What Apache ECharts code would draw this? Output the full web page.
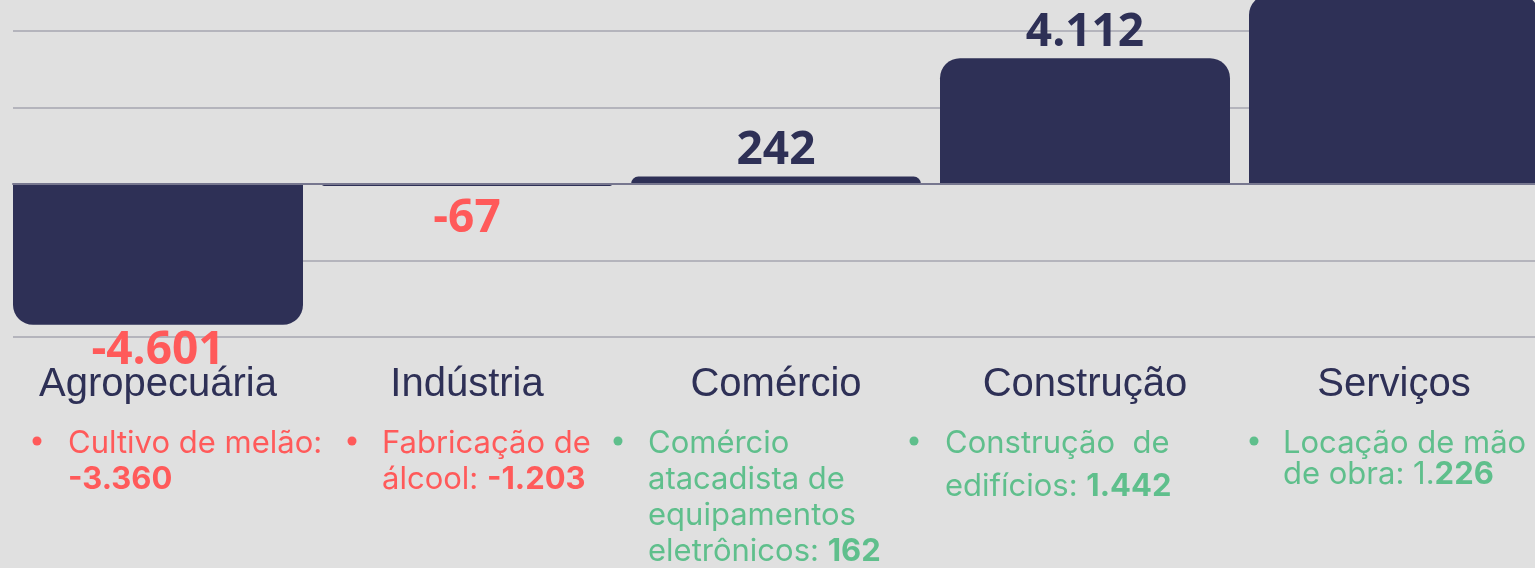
<!DOCTYPE html>
<html>
<head>
<meta charset="utf-8">
<script src="https://cdn.jsdelivr.net/npm/echarts@6/dist/echarts.min.js"></script>
<style>
  html, body { margin: 0; padding: 0; background: #e0e0e0; overflow: hidden; }
  #chart { width: 1535px; height: 568px; }
</style>
</head>
<body>
<div id="chart"></div>
<script>
// saldo de empregos por setor
const categories = ["Agropecuária", "Indústria", "Comércio", "Construção", "Serviços"];
const saldo = [-4601, -67, 242, 4112, 6180];
const yTicks = [-5000, -2500, 0, 2500, 5000];

// destaques por setor (texto + valor em negrito)
const noteText = [
  "Cultivo de melão:\n",
  "Fabricação de\nálcool: ",
  "Comércio\natacadista de\nequipamentos\neletrônicos: ",
  "Construção  de\nedifícios: ",
  "Locação de mão\nde obra: 1."
];
const noteBold = ["-3.360", "-1.203", "162", "1.442", "226"];

const NAVY = "#2e3056";
const RED = "#ff5a5a";
const GREEN = "#5fbf8c";

// layout of the notes and labels (pixels)
const noteBulletX = [37, 352, 618, 914, 1254];
const noteTextX = [68, 382, 648, 945, 1283];
const noteLineH = [36, 36, 36, 43, 31];
const labelGap = [3, 10, 3, 2, 2];

function fmt(v) {
  const s = Math.abs(v).toString().replace(/\B(?=(\d{3})+(?!\d))/g, ".");
  return (v < 0 ? "-" : "") + s;
}

const chart = echarts.init(document.getElementById("chart"));

const graphics = [];
noteText.forEach((t, i) => {
  const color = saldo[i] < 0 ? RED : GREEN;
  graphics.push({
    type: "circle",
    shape: { cx: noteBulletX[i], cy: 441, r: 4.5 },
    style: { fill: color }
  });
  const lines = t.split("\n");
  const rich = lines.map((l, k) => {
    const last = k === lines.length - 1;
    return "{t|" + l + "}" + (last ? "{b|" + noteBold[i] + "}" : "");
  }).join("\n");
  graphics.push({
    type: "text",
    x: noteTextX[i],
    y: 444 - noteLineH[i] / 2,
    style: {
      text: rich,
      fill: color,
      rich: {
        t: { fontFamily: "Inter", fontSize: 31, fill: color, lineHeight: noteLineH[i] },
        b: { fontFamily: "Inter", fontSize: 31, fontWeight: "bold", fill: color, lineHeight: noteLineH[i] }
      }
    }
  });
});

chart.setOption({
  backgroundColor: "#e0e0e0",
  animation: false,
  grid: [
    { left: 3.5, width: 1545, top: 31, height: 306, outerBoundsMode: "none" },
    { left: 13, right: 0, top: 31, height: 306, outerBoundsMode: "none" }
  ],
  xAxis: [
    {
      type: "category",
      gridIndex: 0,
      data: categories,
      position: "bottom",
      axisLine: { show: false, onZero: false },
      axisTick: { show: false },
      axisLabel: {
        margin: 28,
        fontFamily: "Liberation Sans",
        fontSize: 40,
        color: NAVY,
        interval: 0
      }
    },
    {
      type: "value",
      gridIndex: 1,
      z: 10,
      axisLine: { show: true, onZero: true, lineStyle: { color: "#77778f", width: 2 } },
      axisTick: { show: false },
      axisLabel: { show: false },
      splitLine: { show: false }
    }
  ],
  yAxis: [
    {
      type: "value",
      gridIndex: 0,
      min: yTicks[0],
      max: yTicks[yTicks.length - 1],
      interval: 2500,
      show: false,
      splitLine: { show: false }
    },
    {
      type: "value",
      gridIndex: 1,
      min: yTicks[0],
      max: yTicks[yTicks.length - 1],
      interval: 2500,
      axisLine: { show: false },
      axisTick: { show: false },
      axisLabel: { show: false },
      splitLine: { show: true, lineStyle: { color: "#b4b4bc", width: 2 } }
    }
  ],
  series: [
    {
      type: "bar",
      xAxisIndex: 0,
      yAxisIndex: 0,
      barWidth: 290,
      clip: false,
      data: saldo.map((v, i) => ({
        value: v,
        itemStyle: {
          color: NAVY,
          borderRadius: v < 0 ? [0, 0, 20, 20] : [20, 20, 0, 0]
        },
        label: {
          position: v < 0 ? "bottom" : "top",
          color: v < 0 ? RED : NAVY,
          distance: labelGap[i]
        }
      })),
      label: {
        show: true,
        fontFamily: "Open Sans",
        fontWeight: "bold",
        fontSize: 46,
        formatter: p => fmt(p.value)
      }
    }
  ],
  graphic: graphics
});
</script>
</body>
</html>
